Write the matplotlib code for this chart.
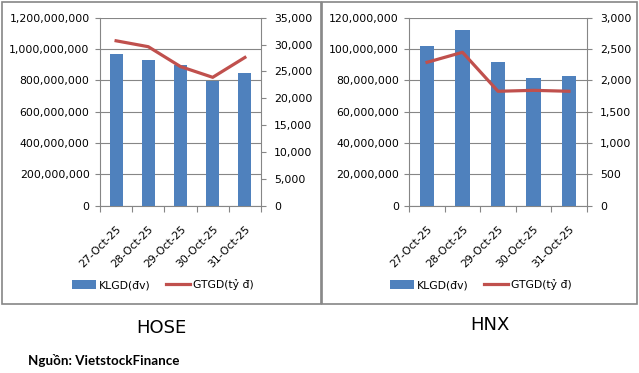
import matplotlib
matplotlib.use("Agg")
import matplotlib.pyplot as plt
from matplotlib.ticker import FuncFormatter, FixedLocator
from matplotlib.patches import Rectangle, Patch
from matplotlib.lines import Line2D

dates = ["27-Oct-25", "28-Oct-25", "29-Oct-25", "30-Oct-25", "31-Oct-25"]
hose_klgd = [968e6, 930e6, 896e6, 798e6, 847e6]
hose_gtgd = [30700, 29600, 25900, 23900, 27600]
hnx_klgd = [101.9e6, 112.1e6, 91.7e6, 81.5e6, 82.8e6]
hnx_gtgd = [2288, 2448, 1826, 1841, 1826]
hose_left_ticks = [0, 200e6, 400e6, 600e6, 800e6, 1000e6, 1200e6]
hose_right_ticks = [0, 5000, 10000, 15000, 20000, 25000, 30000, 35000]
hnx_left_ticks = [0, 20e6, 40e6, 60e6, 80e6, 100e6, 120e6]
hnx_right_ticks = [0, 500, 1000, 1500, 2000, 2500, 3000]
labels = ["KLGD(đv)", "GTGD(tỷ đ)"]
titles = ["HOSE", "HNX"]
source = "Nguồn: VietstockFinance"

BAR = "#4F81BD"
LINE = "#C0504D"
GRAY = "#868686"
W, H = 639, 373
FS = 7.8

plt.rcParams['font.family'] = ['DejaVu Sans']
fig = plt.figure(figsize=(W / 100, H / 100), dpi=100)

fmt = FuncFormatter(lambda v, p: f"{int(round(v)):,}")


def panel(rect, klgd, gtgd, lt, rt, leg_x):
    ax = fig.add_axes(rect)
    x = list(range(len(dates)))
    ax.bar(x, klgd, width=0.4, color=BAR, zorder=3)
    ax.set_xlim(-0.5, len(dates) - 0.5)
    ax.set_ylim(lt[0], lt[-1])
    ax.yaxis.set_major_locator(FixedLocator(lt))
    ax.yaxis.set_major_formatter(fmt)
    ax.grid(axis='y', color=GRAY, linewidth=0.8, zorder=0)
    ax.set_axisbelow(True)
    ax.set_xticks(x)
    ax.set_xticklabels(dates, rotation=45, ha='right', va='top', rotation_mode='anchor')
    ax.set_xticks([i - 0.5 for i in range(len(dates) + 1)], minor=True)
    ax.tick_params(axis='x', which='major', length=0, pad=13, labelsize=FS)
    ax.tick_params(axis='x', which='minor', length=4, color=GRAY, width=0.8)
    ax.tick_params(axis='y', length=3.5, color=GRAY, width=0.8, labelsize=FS, pad=4)
    for s in ['top', 'right']:
        ax.spines[s].set_visible(False)
    for s in ['left', 'bottom']:
        ax.spines[s].set_color(GRAY)
        ax.spines[s].set_linewidth(0.8)
    ax2 = ax.twinx()
    ax2.plot(x, gtgd, color=LINE, linewidth=2.3, zorder=4)
    ax2.set_ylim(rt[0], rt[-1])
    ax2.yaxis.set_major_locator(FixedLocator(rt))
    ax2.yaxis.set_major_formatter(fmt)
    ax2.tick_params(axis='y', length=3.5, color=GRAY, width=0.8, labelsize=FS, pad=6)
    for s in ['top', 'left', 'bottom']:
        ax2.spines[s].set_visible(False)
    ax2.spines['right'].set_color(GRAY)
    ax2.spines['right'].set_linewidth(0.8)
    handles = [Patch(facecolor=BAR, edgecolor='none'),
               Line2D([0], [0], color=LINE, linewidth=2.3)]
    fig.legend(handles, labels, loc='center left',
               bbox_to_anchor=(leg_x / W, 1 - 285 / H), ncol=2, frameon=False,
               fontsize=FS, handlelength=2.2, handleheight=0.9,
               handletextpad=0.3, columnspacing=1.4, borderaxespad=0, borderpad=0)
    return ax, ax2


bottom = 1 - 205.7 / H
height = 188 / H
panel([100 / W, bottom, 161 / W, height], hose_klgd, hose_gtgd,
      hose_left_ticks, hose_right_ticks, 72)
panel([409.3 / W, bottom, 177.4 / W, height], hnx_klgd, hnx_gtgd,
      hnx_left_ticks, hnx_right_ticks, 390)

# panel borders
for (x0, x1) in [(1.5, 320.5), (321.5, 637)]:
    fig.patches.append(Rectangle((x0 / W, 1 - 303.5 / H), (x1 - x0) / W, (303.5 - 2) / H,
                                 transform=fig.transFigure, fill=False,
                                 edgecolor=GRAY, linewidth=1.2))

fig.text(161.5 / W, 1 - 328.3 / H, titles[0], ha='center', va='center',
         fontsize=13, family='DejaVu Sans')
fig.text(489.5 / W, 1 - 325.5 / H, titles[1], ha='center', va='center',
         fontsize=13, family='DejaVu Sans')
fig.text(28 / W, 1 - 360.7 / H, source, ha='left', va='center',
         fontsize=9.6, fontweight='bold', family=['Lato', 'DejaVu Sans'])

fig.savefig("out.png", dpi=100)
